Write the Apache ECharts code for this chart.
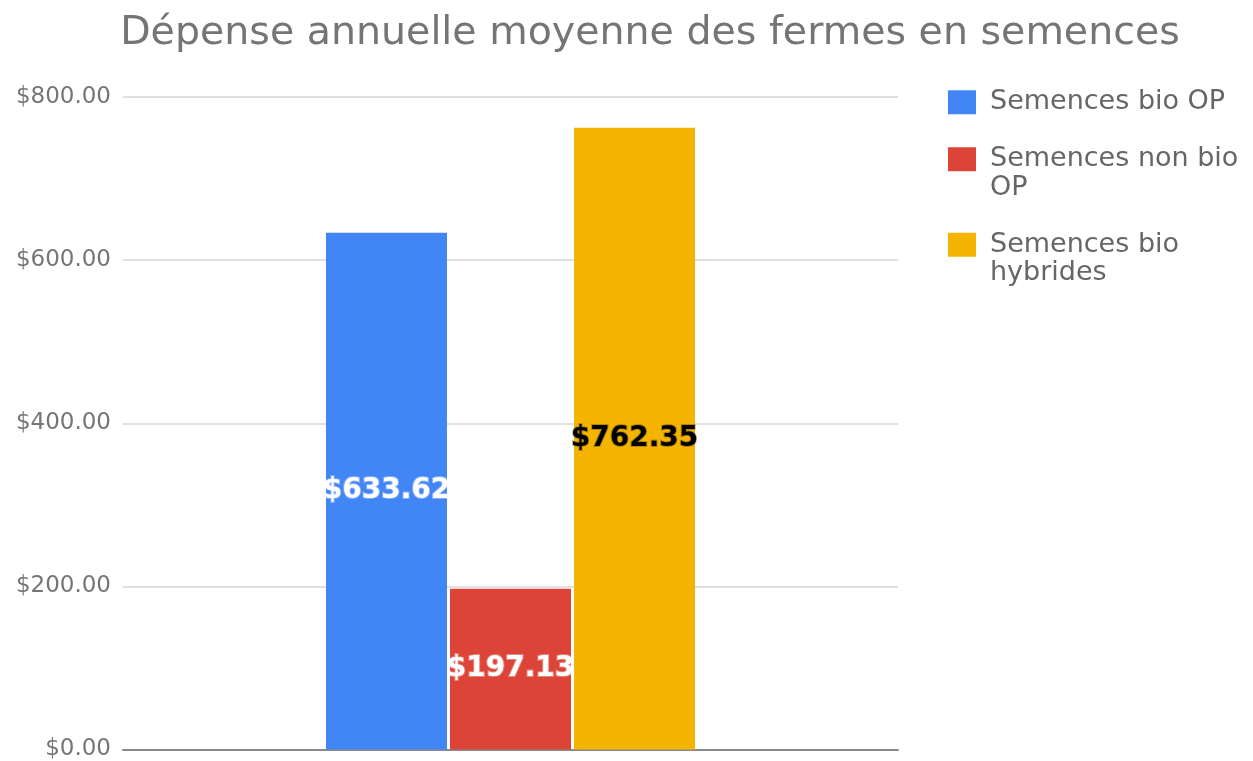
<!DOCTYPE html>
<html>
<head>
<meta charset="utf-8">
<script src="https://cdn.jsdelivr.net/npm/echarts@6/dist/echarts.min.js"></script>
<style>
  html, body { margin: 0; padding: 0; background: #fff; }
  #chart { width: 1253px; height: 761px; }
</style>
</head>
<body>
<div id="chart"></div>
<script>
const titleText = 'Dépense annuelle moyenne des fermes en semences';
const categories = [''];
const seriesNames = ['Semences bio OP', 'Semences non bio OP', 'Semences bio hybrides'];
const legendLabels = ['Semences bio OP', '\nSemences non bio\nOP', '\nSemences bio\nhybrides'];
const seriesValues = [[633.62], [197.13], [762.35]];
const seriesColors = ['#4285f4', '#db4437', '#f4b400'];
const labelColors = ['#ffffff', '#ffffff', '#000000'];
const yTicks = { min: 0, max: 800, step: 200 };

const font = 'DejaVu Sans';

function money(v) {
  return '$' + Number(v).toFixed(2);
}

const series = seriesNames.map((name, i) => {
  return {
    name: name,
    type: 'bar',
    data: seriesValues[i],
    barWidth: 121,
    barGap: '2.5%',
    itemStyle: { color: seriesColors[i] },
    label: {
      show: true,
      position: 'inside',
      formatter: p => money(p.value),
      color: labelColors[i],
      fontFamily: font,
      fontSize: 28,
      fontWeight: 'bold',
      textBorderColor: i === 2 ? 'rgba(0,0,0,0.25)' : 'rgba(255,255,255,0.35)',
      textBorderWidth: 2,
    },
  };
});

const chart = echarts.init(document.getElementById('chart'));
chart.setOption({
  animation: false,
  title: {
    text: titleText,
    left: 645,
    textAlign: 'center',
    top: 9,
    textStyle: { fontFamily: font, fontSize: 39.5, fontWeight: 'normal', color: '#757575' },
  },
  legend: {
    orient: 'vertical',
    left: 943,
    top: 83,
    itemWidth: 28,
    itemHeight: 24,
    itemGap: 0,
    icon: 'rect',
    data: seriesNames,
    formatter: name => legendLabels[seriesNames.indexOf(name)],
    textStyle: { fontFamily: font, fontSize: 27, lineHeight: 28.5, color: '#666', padding: [0, 0, 0, 9] },
  },
  grid: { left: 123, right: 355, top: 97, bottom: 11, containLabel: false },
  xAxis: {
    type: 'category',
    data: categories,
    axisLine: { lineStyle: { color: '#8a8a8a', width: 2 } },
    axisTick: { show: false },
    axisLabel: { show: false },
  },
  yAxis: {
    type: 'value',
    min: yTicks.min,
    max: yTicks.max,
    interval: yTicks.step,
    axisLine: { show: false },
    axisTick: { show: false },
    axisLabel: {
      formatter: money,
      margin: 12,
      fontFamily: font,
      fontSize: 23,
      color: '#757575',
    },
    splitLine: { lineStyle: { color: '#e0e0e0', width: 2 } },
  },
  series: series,
});
</script>
</body>
</html>
